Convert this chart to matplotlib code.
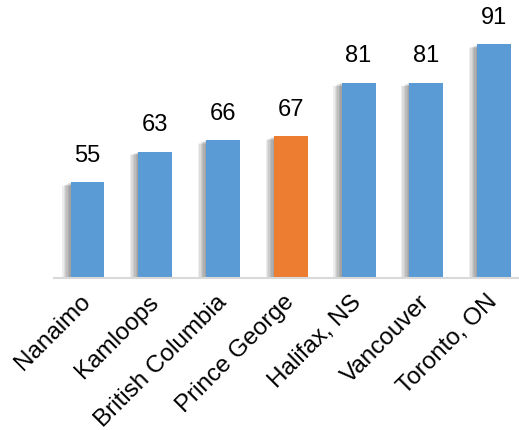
import matplotlib.pyplot as plt
from matplotlib import patheffects as pe

# data
cities = ['Nanaimo', 'Kamloops', 'British Columbia', 'Prince George',
          'Halifax, NS', 'Vancouver', 'Toronto, ON']
scores = [55, 63, 66, 67, 81, 81, 91]
highlight = 'Prince George'

blue = '#5B9BD5'
orange = '#ED7D31'

plt.rcParams['font.family'] = ['Liberation Sans', 'DejaVu Sans']

fig = plt.figure(figsize=(5.19, 4.30), dpi=100)
ax = fig.add_axes([54 / 519, 152 / 430, 474 / 519, 268 / 430])

colors = [orange if c == highlight else blue for c in cities]
x = range(len(cities))

# soft shadow to the lower left of each bar
shadow = [pe.SimplePatchShadow(offset=(-o, -o * 0.4), shadow_rgbFace='#000000', alpha=0.07)
          for o in (1, 2, 3, 4, 5, 6)]
bars = ax.bar(x, scores, width=0.5, bottom=0, color=colors, zorder=3)
for b in bars:
    b.set_path_effects(shadow + [pe.Normal()])

for xi, v in zip(x, scores):
    ax.annotate(str(v), (xi, v), xytext=(0, 11), textcoords='offset points',
                ha='center', va='bottom', fontsize=17, color='#000000')

ax.set_xlim(-0.495, 6.5)
ax.set_ylim(30, 100)
ax.set_yticks([])
ax.set_xticks(list(x))
ax.set_xticklabels(cities, rotation=45, ha='right', va='center',
                   rotation_mode='anchor', fontsize=17.5)
ax.tick_params(axis='x', length=0, pad=15)
for s in ('top', 'left', 'right'):
    ax.spines[s].set_visible(False)
ax.spines['bottom'].set_color('#D9D9D9')
ax.spines['bottom'].set_linewidth(1.5)
ax.spines['bottom'].set_zorder(4)

fig.savefig('out.png', dpi=100)
